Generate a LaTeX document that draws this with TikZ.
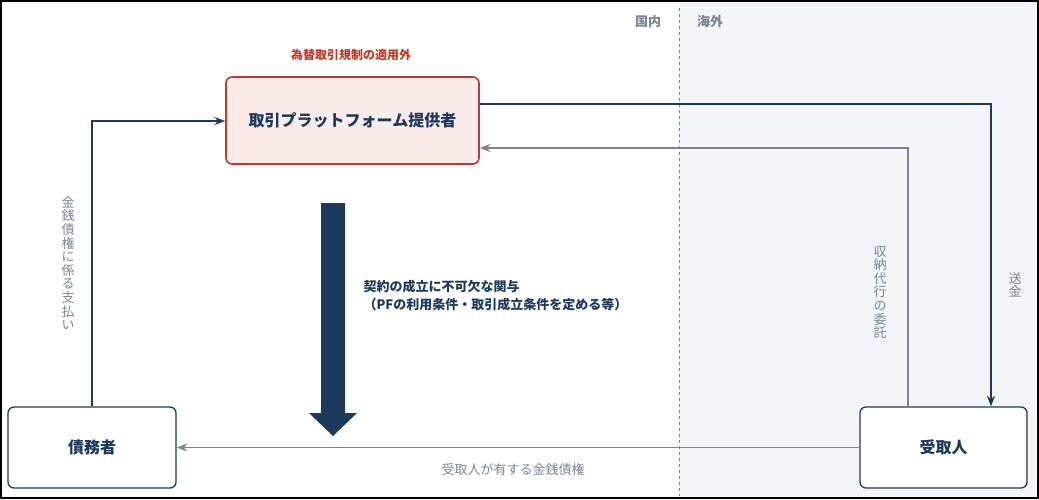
\documentclass[tikz,border=0pt]{standalone}
\usepackage{fontspec}
\setmainfont{Noto Sans CJK JP}
\usepackage{tikz}
\usetikzlibrary{arrows.meta,positioning}
\definecolor{navy}{RGB}{29,58,92}
\definecolor{slate}{RGB}{122,133,145}
\definecolor{fog}{RGB}{243,245,249}
\definecolor{alertred}{RGB}{192,57,43}
\definecolor{blush}{RGB}{251,236,236}

\begin{document}
\begin{tikzpicture}[x=1pt, y=-1pt, >=Stealth,
    party/.style={draw=navy, line width=1.3pt, rounded corners=6pt, fill=white, font=\fontsize{16}{18}\selectfont\bfseries, text=navy},
    flow/.style={navy, line width=1.7pt, ->},
    relay/.style={slate, line width=1.7pt, ->},
    side/.style={text=slate, font=\fontsize{13}{13.6}\selectfont, align=center}]

  % ========== FRAME ==========
  \useasboundingbox (0,0) rectangle (1039,499);
  \fill[fog] (679,2) rectangle (1036,496);
  \draw[black, line width=1.6pt] (1,1) rectangle (1038,498);
  \draw[slate, dashed, line width=0.9pt] (679,8) -- (679,496);
  \node[text=slate, font=\fontsize{13}{14}\selectfont\bfseries] (domestic) at (648,22) {国内};
  \node[text=slate, font=\fontsize{13}{14}\selectfont\bfseries] (overseas) at (710,22) {海外};

  % ========== PARTIES ==========
  \node[party, draw=alertred, fill=blush, line width=1.6pt, minimum width=253pt, minimum height=87pt] (platform) at (352.5,120.5) {取引プラットフォーム提供者};
  \node[text=alertred, font=\fontsize{12}{13}\selectfont\bfseries] (exempt) at (351,55) {為替取引規制の適用外};
  \node[party, minimum width=168pt, minimum height=81pt] (debtor) at (92,447.5) {債務者};
  \node[party, minimum width=167pt, minimum height=81pt] (payee) at (943.5,447.5) {受取人};

  % ========== FLOWS ==========
  \coordinate (payUp) at (92,121);
  \draw[flow] (debtor.north -| payUp) -- (payUp) -- (platform.west |- payUp);
  \node[side] (payLabel) at (68,263) {金\\銭\\債\\権\\に\\係\\る\\支\\払\\い};

  \coordinate (sendTurn) at (991,104);
  \draw[flow] (platform.east |- sendTurn) -- (sendTurn) -- (payee.north -| sendTurn);
  \node[side] (sendLabel) at (1015,285) {送\\金};

  \coordinate (relayTurn) at (908,148);
  \draw[relay] (payee.north -| relayTurn) -- (relayTurn) -- (platform.east |- relayTurn);
  \node[side] (relayLabel) at (880,292) {収\\納\\代\\行\\の\\委\\託};

  \draw[relay] (payee.west) -- (debtor.east);
  \node[side] (claimLabel) at (513,470) {受取人が有する金銭債権};

  % Big arrow
  \fill[navy] (321,203) -- (345,203) -- (345,413) -- (357,413) -- (333,436) -- (309,413) -- (321,413) -- cycle;
  \node[text=navy, font=\fontsize{13}{18}\selectfont\bfseries, align=left, anchor=west] (roleLabel) at (360,296)
    {契約の成立に不可欠な関与\\（PFの利用条件・取引成立条件を定める等）};

\end{tikzpicture}
\end{document}
